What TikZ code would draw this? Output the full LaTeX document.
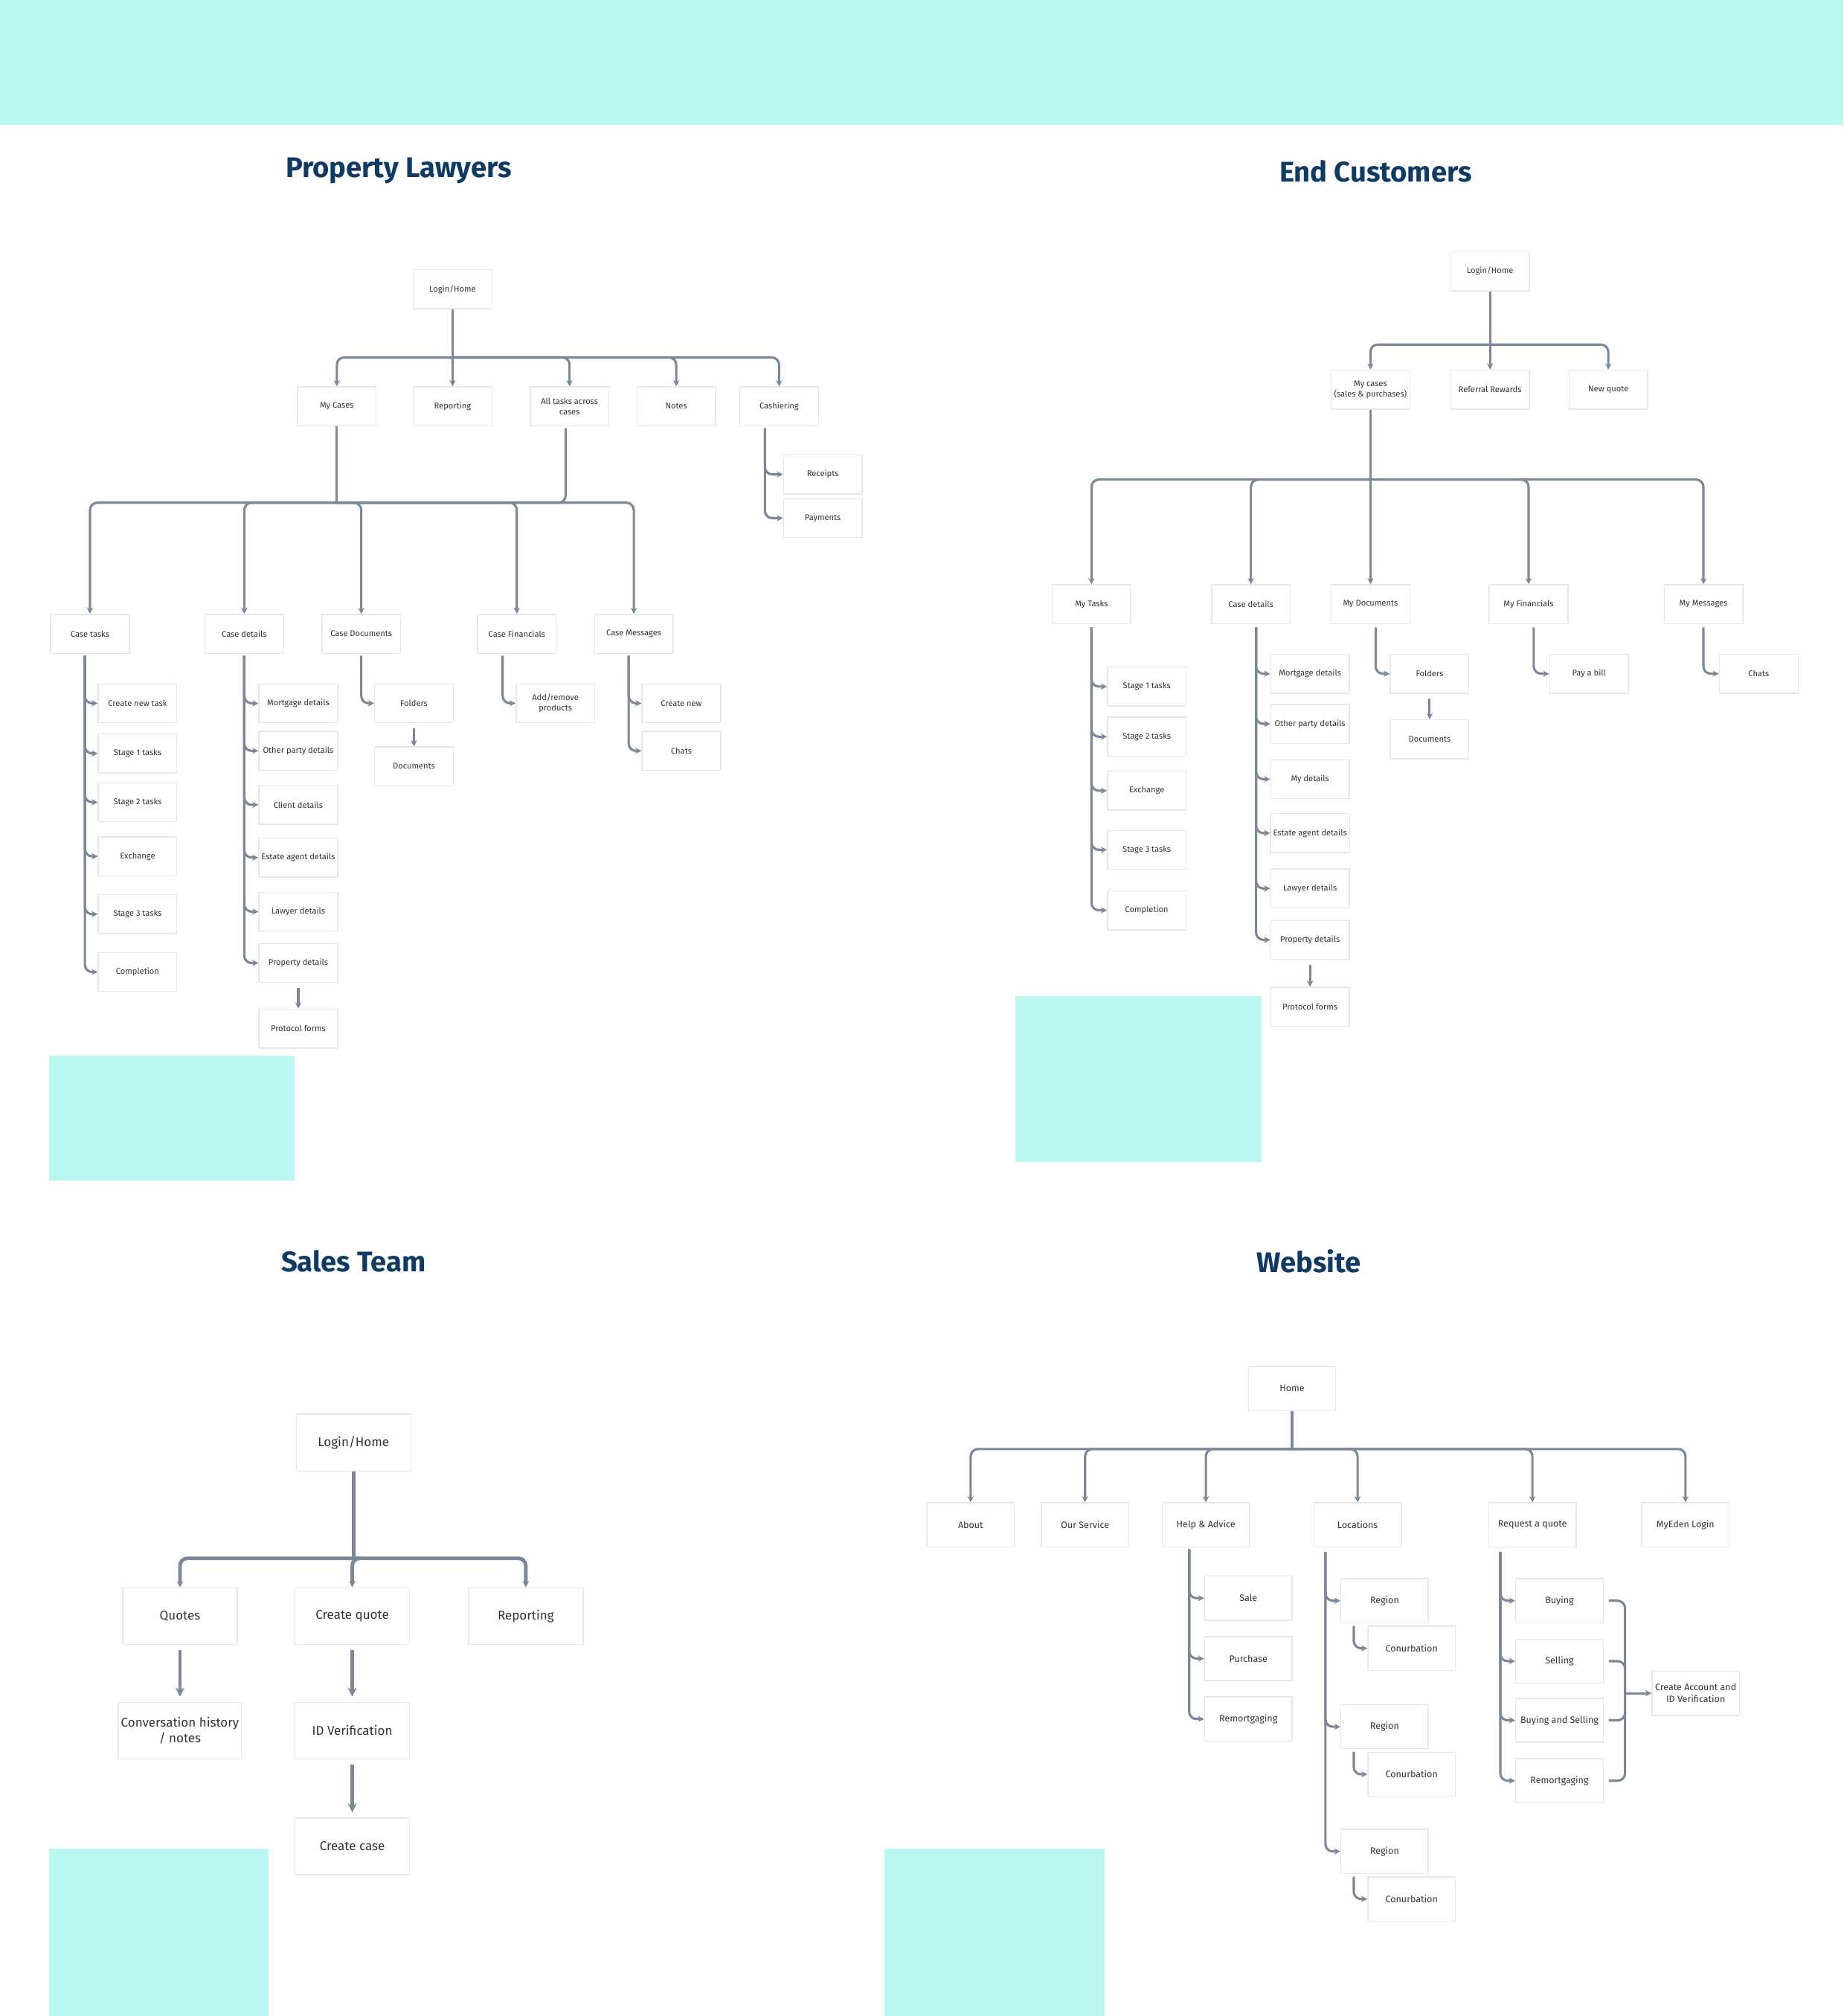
\documentclass[tikz,border=0pt]{standalone}
\usepackage{fontspec}
\setmainfont{Fira Sans}
\usetikzlibrary{arrows.meta}

\definecolor{band}{HTML}{BAF7F1}
\definecolor{wire}{HTML}{7A8899}
\definecolor{boxline}{HTML}{E6E8EB}
\definecolor{titleblue}{HTML}{0E3A64}

\tikzset{
    box/.style={draw=boxline, fill=white, minimum width=1.07cm, minimum height=0.53cm,
        inner sep=1pt, align=center, text=black!80, font=\fontsize{3.2}{4.1}\selectfont},
    bigbox/.style={box, minimum width=1.56cm, minimum height=0.77cm, font=\fontsize{4.9}{6.2}\selectfont},
    webbox/.style={box, minimum width=1.19cm, minimum height=0.6cm, font=\fontsize{3.6}{4.6}\selectfont},
    wireline/.style={draw=wire, line width=0.9pt, rounded corners=0.1cm},
    arrow/.style={wireline, -{Stealth[length=2.4pt,width=2.4pt]}},
    bigarrow/.style={draw=wire, line width=1.4pt, -{Stealth[length=3.5pt,width=3.5pt]}},
    heading/.style={font=\fontsize{11}{13}\selectfont\bfseries, text=titleblue},
    patch/.style={fill=band, draw=none}
}

\begin{document}
\begin{tikzpicture}[x=0.0175cm, y=-0.0175cm]
    \useasboundingbox (0,0) rectangle (1434,1568);
    \fill[white] (0,0) rectangle (1434,1568);

    % Top band and corner patches
    \fill[patch] (0,0) rectangle (1434,97);
    \fill[patch] (38,821) rectangle (229,918);
    \fill[patch] (790,775) rectangle (981,904);
    \fill[patch] (38,1438) rectangle (209,1568);
    \fill[patch] (688,1438) rectangle (859,1568);

    % Titles
    \node[heading] (tpl) at (310,133) {Property Lawyers};
    \node[heading] (tec) at (1070,133) {End Customers};
    \node[heading] (tst) at (275,981) {Sales Team};
    \node[heading] (tws) at (1018,981) {Website};

    % ---------------- Property Lawyers ----------------
    \node[box] (pllogin) at (352,225) {Login/Home};
    \node[box] (plmycases) at (262,316) {My Cases};
    \node[box] (plreport) at (352,316) {Reporting};
    \node[box] (plalltasks) at (443,316) {All tasks across\\cases};
    \node[box] (plnotes) at (526,316) {Notes};
    \node[box] (plcash) at (606,316) {Cashiering};
    \coordinate (plbus) at (352,278);
    \draw[wireline] (pllogin) -- (plbus);
    \foreach \n in {plmycases, plreport, plalltasks, plnotes, plcash} {
        \draw[arrow] (plbus) -| (\n.north);
    }

    % Cashiering
    \node[box] (plreceipts) at (640,369) {Receipts};
    \node[box] (plpayments) at (640,403) {Payments};
    \coordinate (plcashsp) at (595,333);
    \foreach \n in {plreceipts, plpayments} {
        \draw[arrow] (plcashsp) |- (\n.west);
    }

    % Second level
    \node[box] (plctasks) at (70,493) {Case tasks};
    \node[box] (plcdetails) at (190,493) {Case details};
    \node[box] (plcdocs) at (281,493) {Case Documents};
    \node[box] (plcfin) at (402,493) {Case Financials};
    \node[box] (plcmsg) at (493,493) {Case Messages};
    \coordinate (plbus2) at (262,391);
    \coordinate (plalltasksp) at (440,333);
    \draw[wireline] (plmycases) -- (plbus2);
    \draw[wireline] (plalltasksp) |- (plbus2);
    \foreach \n in {plctasks, plcdetails, plcdocs, plcfin, plcmsg} {
        \draw[arrow] (plbus2) -| (\n.north);
    }

    % Case tasks
    \coordinate (plctsp) at (66,510);
    \foreach \t/\y [count=\i] in {Create new task/547, Stage 1 tasks/586, Stage 2 tasks/624,
        Exchange/666, Stage 3 tasks/711, Completion/756} {
        \node[box] (plct\i) at (107,\y) {\t};
        \draw[arrow] (plctsp) |- (plct\i.west);
    }

    % Case details
    \coordinate (plcdsp) at (190,510);
    \foreach \t/\y [count=\i] in {Mortgage details/547, Other party details/584, Client details/626,
        Estate agent details/667, Lawyer details/709, Property details/749} {
        \node[box] (plcd\i) at (232,\y) {\t};
        \draw[arrow] (plcdsp) |- (plcd\i.west);
    }
    \node[box] (plprotocol) at (232,800) {Protocol forms};
    \draw[arrow] ([yshift=-2pt]plcd6.south) -- (plprotocol.north);

    % Case documents
    \node[box] (plfolders) at (322,547) {Folders};
    \node[box] (pldocuments) at (322,596) {Documents};
    \coordinate (plcdocsp) at (281,510);
    \draw[arrow] (plcdocsp) |- (plfolders.west);
    \draw[arrow] ([yshift=-2pt]plfolders.south) -- (pldocuments.north);

    % Case financials
    \node[box] (pladdremove) at (432,547) {Add/remove\\products};
    \coordinate (plcfinsp) at (391,510);
    \draw[arrow] (plcfinsp) |- (pladdremove.west);

    % Case messages
    \node[box] (plcreate) at (530,547) {Create new};
    \node[box] (plchats) at (530,584) {Chats};
    \coordinate (plcmsgsp) at (489,510);
    \foreach \n in {plcreate, plchats} {
        \draw[arrow] (plcmsgsp) |- (\n.west);
    }

    % ---------------- End Customers ----------------
    \node[box] (eclogin) at (1159,211) {Login/Home};
    \node[box] (ecmycases) at (1066,303) {My cases\\(sales \& purchases)};
    \node[box] (ecreferral) at (1159,303) {Referral Rewards};
    \node[box] (ecquote) at (1251,303) {New quote};
    \coordinate (ecbus) at (1159,268);
    \draw[wireline] (eclogin) -- (ecbus);
    \foreach \n in {ecmycases, ecreferral, ecquote} {
        \draw[arrow] (ecbus) -| (\n.north);
    }

    \node[box] (ectasks) at (849,470) {My Tasks};
    \node[box] (ecdetails) at (973,470) {Case details};
    \node[box] (ecdocs) at (1066,470) {My Documents};
    \node[box] (ecfin) at (1189,470) {My Financials};
    \node[box] (ecmsg) at (1325,470) {My Messages};
    \coordinate (ecbus2) at (1066,373);
    \draw[wireline] (ecmycases) -- (ecbus2);
    \foreach \n in {ectasks, ecdetails, ecdocs, ecfin, ecmsg} {
        \draw[arrow] (ecbus2) -| (\n.north);
    }

    % My tasks
    \coordinate (ectsp) at (849,488);
    \foreach \t/\y [count=\i] in {Stage 1 tasks/534, Stage 2 tasks/573, Exchange/615,
        Stage 3 tasks/661, Completion/708} {
        \node[box] (ect\i) at (892,\y) {\t};
        \draw[arrow] (ectsp) |- (ect\i.west);
    }

    % Case details
    \coordinate (ecdsp) at (977,488);
    \foreach \t/\y [count=\i] in {Mortgage details/524, Other party details/563, My details/606,
        Estate agent details/648, Lawyer details/691, Property details/731} {
        \node[box] (ecd\i) at (1019,\y) {\t};
        \draw[arrow] (ecdsp) |- (ecd\i.west);
    }
    \node[box] (ecprotocol) at (1019,783) {Protocol forms};
    \draw[arrow] ([yshift=-2pt]ecd6.south) -- (ecprotocol.north);

    % My documents, financials, messages
    \node[box] (ecfolders) at (1112,524) {Folders};
    \node[box] (ecdocuments) at (1112,575) {Documents};
    \coordinate (ecdocsp) at (1070,488);
    \draw[arrow] (ecdocsp) |- (ecfolders.west);
    \draw[arrow] ([yshift=-2pt]ecfolders.south) -- (ecdocuments.north);

    \node[box] (ecpay) at (1236,524) {Pay a bill};
    \coordinate (ecfinsp) at (1193,488);
    \draw[arrow] (ecfinsp) |- (ecpay.west);

    \node[box] (ecchats) at (1368,524) {Chats};
    \coordinate (ecmsgsp) at (1325,488);
    \draw[arrow] (ecmsgsp) |- (ecchats.west);

    % ---------------- Sales Team ----------------
    \node[bigbox] (stlogin) at (275,1122) {Login/Home};
    \node[bigbox] (stquotes) at (140,1257) {Quotes};
    \node[bigbox] (stcreate) at (274,1257) {Create quote};
    \node[bigbox] (streport) at (409,1257) {Reporting};
    \coordinate (stbus) at (275,1212);
    \draw[wireline, line width=1.4pt] (stlogin) -- (stbus);
    \foreach \n in {stquotes, stcreate, streport} {
        \draw[arrow, line width=1.4pt] (stbus) -| (\n.north);
    }
    \node[bigbox] (sthistory) at (140,1346) {Conversation history\\/ notes};
    \node[bigbox] (stid) at (274,1346) {ID Verification};
    \node[bigbox] (stcase) at (274,1436) {Create case};
    \draw[bigarrow] ([yshift=-2pt]stquotes.south) -- ([yshift=2pt]sthistory.north);
    \draw[bigarrow] ([yshift=-2pt]stcreate.south) -- ([yshift=2pt]stid.north);
    \draw[bigarrow] ([yshift=-2pt]stid.south) -- ([yshift=2pt]stcase.north);

    % ---------------- Website ----------------
    \node[webbox] (wshome) at (1005,1080) {Home};
    \node[webbox] (wsabout) at (755,1186) {About};
    \node[webbox] (wsservice) at (844,1186) {Our Service};
    \node[webbox] (wshelp) at (938,1186) {Help \& Advice};
    \node[webbox] (wsloc) at (1056,1186) {Locations};
    \node[webbox] (wsquote) at (1192,1186) {Request a quote};
    \node[webbox] (wslogin) at (1311,1186) {MyEden Login};
    \coordinate (wsbus) at (1005,1127);
    \draw[wireline] (wshome) -- (wsbus);
    \foreach \n in {wsabout, wsservice, wshelp, wsloc, wsquote, wslogin} {
        \draw[arrow] (wsbus) -| (\n.north);
    }

    % Help & Advice
    \coordinate (wshelpsp) at (925,1205);
    \foreach \t/\y [count=\i] in {Sale/1243, Purchase/1290, Remortgaging/1337} {
        \node[webbox] (wsh\i) at (971,\y) {\t};
        \draw[arrow] (wshelpsp) |- (wsh\i.west);
    }

    % Locations
    \coordinate (wslocsp) at (1031,1207);
    \foreach \y [count=\i] in {1245, 1343, 1440} {
        \node[webbox] (wsreg\i) at (1077,\y) {Region};
        \node[webbox] (wscon\i) at (1098,\y+37) {Conurbation};
        \draw[arrow] (wslocsp) |- (wsreg\i.west);
        \draw[arrow] ([xshift=-0.42cm, yshift=-1pt]wsreg\i.south) |- (wscon\i.west);
    }

    % Request a quote
    \node[webbox] (wsaccount) at (1319,1317) {Create Account and\\ID Verification};
    \coordinate (wsquotesp) at (1167,1207);
    \coordinate (wsjoin) at (1264,1317);
    \foreach \t/\y [count=\i] in {Buying/1245, Selling/1292, Buying and Selling/1338, Remortgaging/1385} {
        \node[webbox] (wsq\i) at (1213,\y) {\t};
        \draw[arrow] (wsquotesp) |- (wsq\i.west);
        \draw[wireline] ([xshift=2pt]wsq\i.east) -| (wsjoin);
    }
    \draw[arrow] (wsjoin) -- (wsaccount.west);

\end{tikzpicture}
\end{document}
